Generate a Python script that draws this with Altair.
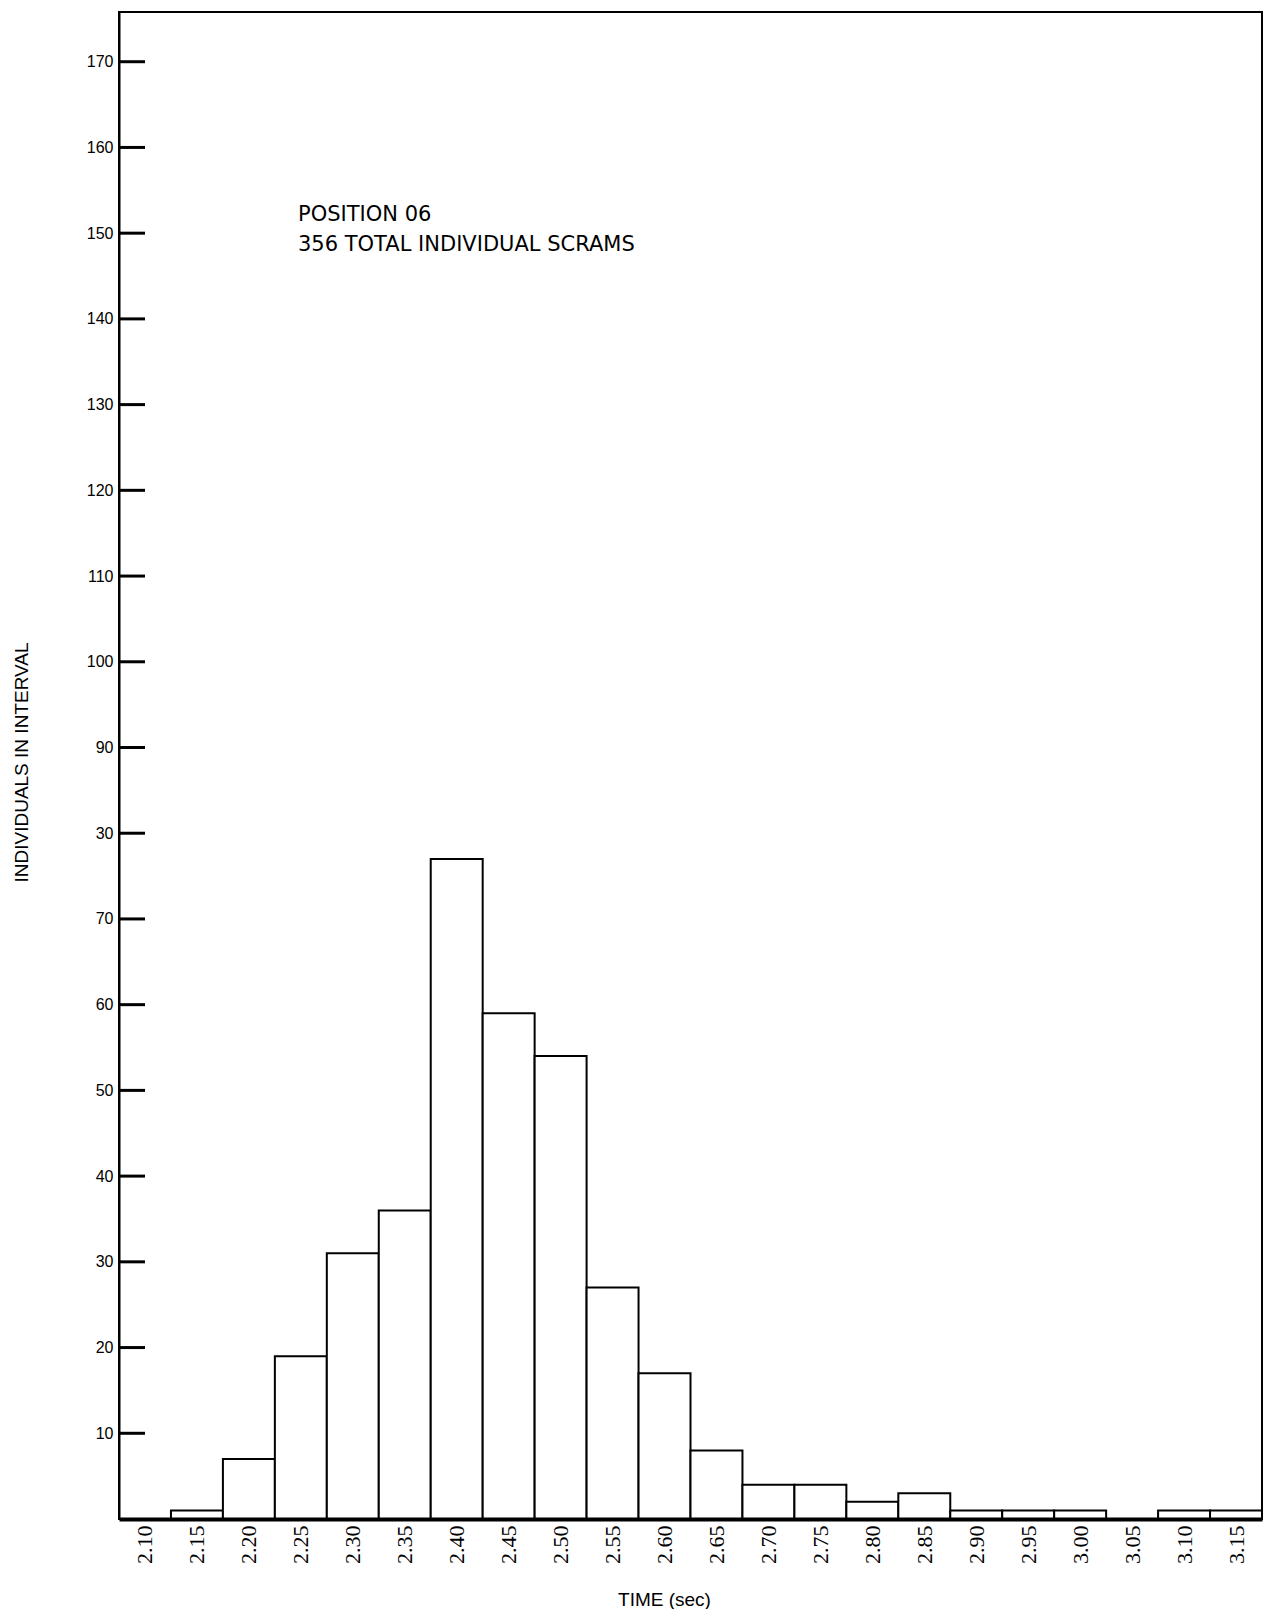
import altair as alt
import pandas as pd

# ---- data ----
TIME_LABELS = ["2.10", "2.15", "2.20", "2.25", "2.30", "2.35", "2.40", "2.45",
               "2.50", "2.55", "2.60", "2.65", "2.70", "2.75", "2.80", "2.85",
               "2.90", "2.95", "3.00", "3.05", "3.10", "3.15"]
COUNTS = [0, 1, 7, 19, 31, 36, 77, 59, 54, 27, 17, 8, 4, 4, 2, 3, 1, 1, 1, 0, 1, 1]
BIN_HALF = 0.025
Y_TICKS = [10, 20, 30, 40, 50, 60, 70, 80, 90, 100, 110, 120, 130, 140, 150, 160, 170]
Y_TICK_TEXT = ["10", "20", "30", "40", "50", "60", "70", "30", "90", "100", "110",
               "120", "130", "140", "150", "160", "170"]
ANNOTATION = ["POSITION 06", "356 TOTAL INDIVIDUAL SCRAMS"]
X_TITLE = "TIME (sec)"
Y_TITLE = "INDIVIDUALS IN INTERVAL"

centers = [float(t) for t in TIME_LABELS]
df = pd.DataFrame({
    "center": centers,
    "start": [c - BIN_HALF for c in centers],
    "end": [c + BIN_HALF for c in centers],
    "count": COUNTS,
    "label": TIME_LABELS,
})
ticks_df = pd.DataFrame({"v": Y_TICKS})
note_df = pd.DataFrame({"k": [0]})

W, H = 1143, 1507
x_scale = alt.Scale(domain=[centers[0] - BIN_HALF, centers[-1] + BIN_HALF], nice=False, zero=False)
y_scale = alt.Scale(domain=[0, 175.8], nice=False)

label_map = "{" + ",".join(f"'{v}':'{t}'" for v, t in zip(Y_TICKS, Y_TICK_TEXT)) + "}"

x_axis = alt.Axis(
    values=centers, format=".2f", labelAngle=270, labelFont="Liberation Serif",
    labelFontSize=22, labelColor="black", labelPadding=6, ticks=False, tickSize=0,
    domainColor="black", domainWidth=4, grid=False, title=X_TITLE,
    titleFont="Liberation Sans", titleFontSize=19, titleFontWeight="normal",
    titleColor="black", titleX=545, titleY=80, titleAlign="center",
    titleBaseline="middle", labelOverlap=False, zindex=1,
)
y_axis = alt.Axis(
    values=Y_TICKS, labelExpr=label_map + "[datum.value + '']",
    labelFont="Liberation Sans", labelFontSize=16, labelColor="black",
    labelPadding=6, ticks=False, tickSize=0, domainColor="black", domainWidth=2,
    grid=False, title=Y_TITLE, titleFont="Liberation Sans", titleFontSize=19,
    titleFontWeight="normal", titleColor="black", titleAngle=270, titleX=-98,
    titleY=750, titleAlign="center", titleBaseline="middle", zindex=1,
)

bars = alt.Chart(df).mark_bar(fill="white", stroke="black", strokeWidth=2).encode(
    x=alt.X("start:Q", scale=x_scale, axis=x_axis),
    x2="end:Q",
    y=alt.Y("count:Q", scale=y_scale, axis=y_axis),
    y2=alt.datum(0),
)

inner_ticks = alt.Chart(ticks_df).mark_rule(color="black", strokeWidth=3).encode(
    y=alt.Y("v:Q", scale=y_scale),
    x=alt.value(0),
    x2=alt.value(26),
)

note = alt.Chart(note_df).mark_text(
    align="left", baseline="middle", font="DejaVu Sans", fontSize=21,
    lineHeight=30, color="black",
).encode(
    x=alt.value(179), y=alt.value(203), text=alt.value(ANNOTATION)
)

chart = alt.layer(bars, inner_ticks, note).properties(
    width=W, height=H,
    autosize=alt.AutoSizeParams(type="none"),
    padding={"left": 111, "top": 4, "right": 10, "bottom": 90},
).configure(
    background="white",
    view=alt.ViewConfig(stroke="black", strokeWidth=2),
)

chart.save("out.html", embed_options={"renderer": "svg", "actions": False})
